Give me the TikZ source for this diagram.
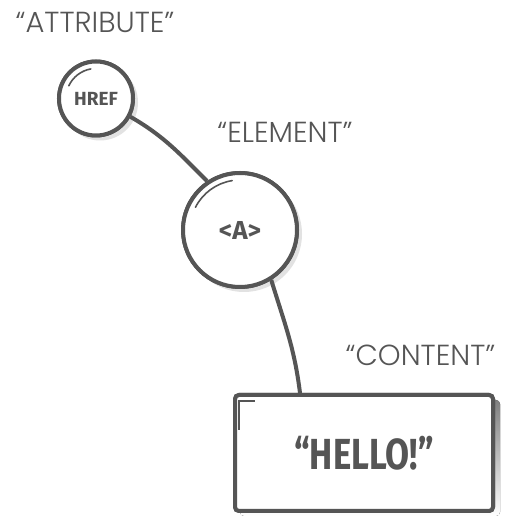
\documentclass[tikz,border=0pt]{standalone}
\usepackage{fontspec}
\newfontfamily\lbl{Poppins Light}
\newfontfamily\bld{Fira Sans}
\newfontfamily\bldc[FakeStretch=0.8]{Fira Sans}
\definecolor{ink}{HTML}{555555}
\definecolor{shade}{HTML}{E2E2E2}
\tikzset{
  x=1pt, y=1pt,
  ring/.style={circle, draw=ink, line width=4pt, fill=white, inner sep=0pt, text=ink},
  shadowring/.style={circle, fill=shade, inner sep=0pt},
  label/.style={text=ink, font=\lbl\fontsize{29}{29}\selectfont, inner sep=0pt},
  wire/.style={draw=ink, line width=4pt},
  glare/.style={draw=ink, line width=1.6pt, line cap=round},
  boxnode/.style={draw=ink, line width=4pt, fill=white, rounded corners=4pt, minimum width=258pt, minimum height=116pt, inner sep=0pt, text=ink}
}
\begin{document}
\begin{tikzpicture}
\fill[white] (0,0) rectangle (510,532);
\useasboundingbox (0,0) rectangle (510,532);
% shadows
\node[shadowring, minimum size=76pt] (hrefsh) at (100,429.5) {};
\node[shadowring, minimum size=116pt] (elemsh) at (244,298) {};
\fill[shade, rounded corners=4pt] (240,16) rectangle (500,132);
% connectors
\node[ring, minimum size=74pt] (href) at (96,433.5) {};
\node[ring, minimum size=114pt] (elem) at (240,302) {};
\node[boxnode] (box) at (364,79) {};
\draw[wire] (href.-28) to[out=-30, in=135] (elem.124);
\draw[wire] (elem.-58) to[out=-73, in=97] ([xshift=67pt]box.north west);
% redraw nodes on top
\node[ring, minimum size=74pt] (hreftop) at (96,433.5) {\bld\bfseries\fontsize{19}{19}\selectfont HREF};
\node[ring, minimum size=114pt] (elemtop) at (240,302) {\bld\bfseries\fontsize{26}{26}\selectfont <A>};
\node[boxnode] (boxtop) at (364,79) {\bldc\bfseries\fontsize{43.5}{43.5}\selectfont “HELLO!”};
% glare arcs
\draw[glare] (hreftop.center) ++(155:30) arc[start angle=155, end angle=100, radius=30];
\draw[glare] (elemtop.center) ++(153:50) arc[start angle=153, end angle=99, radius=50];
% corner mark
\draw[draw=ink, line width=2pt] ([xshift=6pt,yshift=-37pt]boxtop.north west) -- ([xshift=6pt,yshift=-8pt]boxtop.north west) -- ([xshift=22pt,yshift=-8pt]boxtop.north west);
% labels
\node[label] (lattr) at (95,510) {“ATTRIBUTE”};
\node[label] (lelem) at (285,400) {“ELEMENT”};
\node[label] (lcont) at (420.5,177) {“CONTENT”};
\end{tikzpicture}
\end{document}
